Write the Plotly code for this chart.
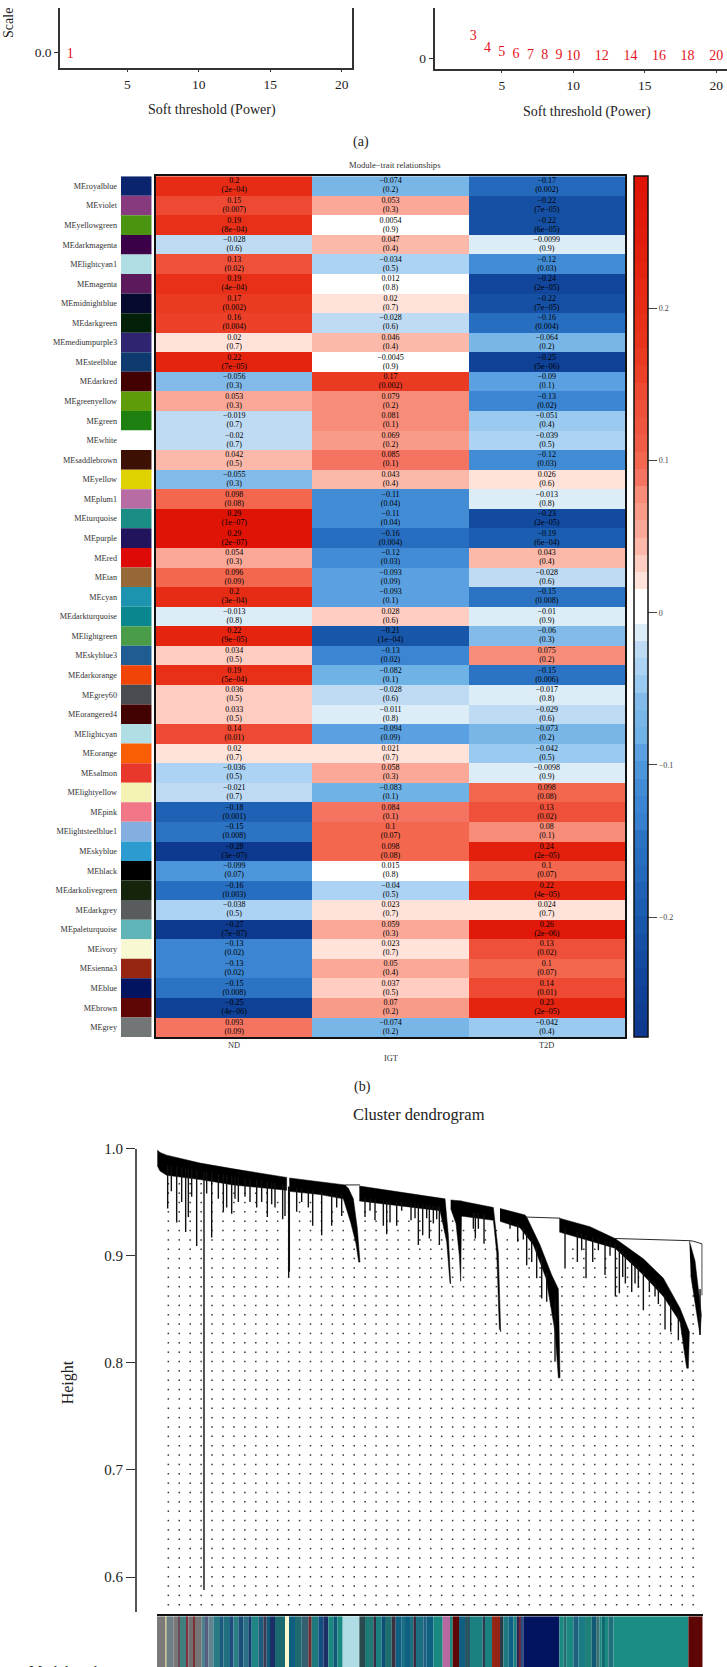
import numpy as np
import plotly.graph_objects as go

W, H = 727, 1667
FONT = "Liberation Serif"

# ---------- panel (a) ----------
fit_power = [1]
fit_r2 = [-0.0045]
conn_power = [3, 4, 5, 6, 7, 8, 9, 10, 12, 14, 16, 18, 20]
conn_mean = [65, 29, 18, 11, 9, 9, 9, 6, 6, 6, 6, 6, 6]

# ---------- panel (b) ----------
modules = ["royalblue", "violet", "yellowgreen", "darkmagenta", "lightcyan1", "magenta", "midnightblue",
           "darkgreen", "mediumpurple3", "steelblue", "darkred", "greenyellow", "green", "white",
           "saddlebrown", "yellow", "plum1", "turquoise", "purple", "red", "tan", "cyan", "darkturquoise",
           "lightgreen", "skyblue3", "darkorange", "grey60", "orangered4", "lightcyan", "orange", "salmon",
           "lightyellow", "pink", "lightsteelblue1", "skyblue", "black", "darkolivegreen", "darkgrey",
           "paleturquoise", "ivory", "sienna3", "blue", "brown", "grey"]
module_colors = ["#0B246E", "#873A7E", "#4A9412", "#3C0048", "#B0DEE4", "#5C1A5C", "#050A2E", "#032008",
                 "#2E2470", "#0F3A70", "#420000", "#5E9C0A", "#1F8012", "#FFFFFF", "#3E1004", "#E0D200",
                 "#B86CA4", "#1A8E84", "#22145C", "#DE0A08", "#966838", "#1C94B0", "#0A868E", "#4A9C48",
                 "#1F5C92", "#F04408", "#484C50", "#420202", "#B0DEE4", "#FA5E05", "#E8382C", "#F4F2B4",
                 "#F07688", "#84AEE0", "#2C9CD0", "#000000", "#15250C", "#585C5C", "#60B4B8", "#F8F8D2",
                 "#962612", "#02145F", "#5E0505", "#727676"]
traits = ["ND", "IGT", "T2D"]
r_nd = [0.2, 0.15, 0.19, -0.028, 0.13, 0.19, 0.17, 0.16, 0.02, 0.22, -0.056, 0.053, -0.019, -0.02, 0.042,
        -0.055, 0.098, 0.29, 0.29, 0.054, 0.096, 0.2, -0.013, 0.22, 0.034, 0.19, 0.036, 0.033, 0.14, 0.02,
        -0.036, -0.021, -0.18, -0.15, -0.28, -0.099, -0.16, -0.038, -0.27, -0.13, -0.13, -0.15, -0.25, 0.093]
r_igt = [-0.074, 0.053, 0.0054, 0.047, -0.034, 0.012, 0.02, -0.028, 0.046, -0.0045, 0.17, 0.079, 0.081, 0.069,
         0.085, 0.043, -0.11, -0.11, -0.16, -0.12, -0.093, -0.093, 0.028, -0.21, -0.13, -0.082, -0.028, -0.011,
         -0.094, 0.021, 0.058, -0.083, 0.084, 0.1, 0.098, 0.015, -0.04, 0.023, 0.059, 0.023, 0.05, 0.037, 0.07,
         -0.074]
r_t2d = [-0.17, -0.22, -0.22, -0.0099, -0.12, -0.24, -0.22, -0.16, -0.064, -0.25, -0.09, -0.13, -0.051, -0.039,
         -0.12, 0.026, -0.013, -0.23, -0.19, 0.043, -0.028, -0.15, -0.01, -0.06, 0.075, -0.15, -0.017, -0.029,
         -0.073, -0.042, -0.0098, 0.098, 0.13, 0.08, 0.24, 0.1, 0.22, 0.024, 0.26, 0.13, 0.1, 0.14, 0.23, -0.042]
p_nd = ["2e-04", "0.007", "8e-04", "0.6", "0.02", "4e-04", "0.002", "0.004", "0.7", "7e-05", "0.3", "0.3", "0.7",
        "0.7", "0.5", "0.3", "0.08", "1e-07", "2e-07", "0.3", "0.09", "3e-04", "0.8", "9e-05", "0.5", "5e-04",
        "0.5", "0.5", "0.01", "0.7", "0.5", "0.7", "0.001", "0.008", "3e-07", "0.07", "0.003", "0.5", "7e-07",
        "0.02", "0.02", "0.008", "4e-06", "0.09"]
p_igt = ["0.2", "0.3", "0.9", "0.4", "0.5", "0.8", "0.7", "0.6", "0.4", "0.9", "0.002", "0.2", "0.1", "0.2", "0.1",
         "0.4", "0.04", "0.04", "0.004", "0.03", "0.09", "0.1", "0.6", "1e-04", "0.02", "0.1", "0.6", "0.8", "0.09",
         "0.7", "0.3", "0.1", "0.1", "0.07", "0.08", "0.8", "0.5", "0.7", "0.3", "0.7", "0.4", "0.5", "0.2", "0.2"]
p_t2d = ["0.002", "7e-05", "6e-05", "0.9", "0.03", "2e-05", "7e-05", "0.004", "0.2", "5e-06", "0.1", "0.02", "0.4",
         "0.5", "0.03", "0.6", "0.8", "2e-05", "6e-04", "0.4", "0.6", "0.008", "0.9", "0.3", "0.2", "0.006", "0.8",
         "0.6", "0.2", "0.5", "0.9", "0.08", "0.02", "0.1", "2e-05", "0.07", "4e-05", "0.7", "2e-06", "0.02", "0.07",
         "0.01", "2e-05", "0.4"]
z_min, z_max = -0.279, 0.287
scale_ticks = [0.2, 0.1, 0, -0.1, -0.2]
# 50 colour bands of the key, top (high) to bottom (low)
band_colors = ["#DF1406", "#E01608", "#E1190A", "#E21C0C", "#E3200E", "#E52410", "#E62814", "#E72C16", "#E83018",
               "#E9341C", "#EA3A22", "#EC4029", "#EE4A33", "#EF503A", "#F0553F", "#F15C47", "#F3674F", "#F47361",
               "#F78D79", "#F99B89", "#FBA898", "#FCB9AA", "#FFCDC2", "#FFE3DA", "#FFFFFF", "#FFFFFF", "#DDEDF8",
               "#BFDBF4", "#ACD3F4", "#9ACAF0", "#82BAEA", "#78B6E8", "#6FB2E6", "#5BA0E0", "#4E96DB", "#428CD6",
               "#3B85D2", "#3780CF", "#2C73C4", "#286EC0", "#2469BC", "#1F62B5", "#1B5DB0", "#1856AA", "#1650A4",
               "#134BA0", "#11469C", "#0F4196", "#0E3D91", "#0D3A8E"]

# ---------- panel (c): dendrogram, x = leaf position, heights ----------
branch_leaf = [
    [472, 480, 500, 600, 700, 860, 860, 700, 600, 500, 480, 472],
    [868, 960, 1035, 1045, 1060, 1072, 1080, 1076, 1068, 1052, 1030, 960, 868],
    [1078, 1335, 1345, 1352, 1350, 1340, 1320, 1078],
    [1352, 1385, 1382, 1378, 1368, 1352],
    [1382, 1480, 1495, 1502, 1498, 1490, 1480, 1382],
    [1500, 1575, 1580, 1620, 1655, 1675, 1680, 1675, 1665, 1638, 1600, 1560, 1500],
    [1678, 1770, 1845, 1930, 1990, 2040, 2068, 2065, 2060, 2040, 1990, 1930, 1845, 1770, 1678],
    [2068, 2085, 2104, 2100, 2072],
]
branch_height = [
    [0.9985, 0.9963, 0.9938, 0.9864, 0.981, 0.973, 0.961, 0.966, 0.971, 0.975, 0.979, 0.984],
    [0.9725, 0.969, 0.966, 0.963, 0.953, 0.925, 0.894, 0.894, 0.911, 0.931, 0.953, 0.957, 0.960],
    [0.965, 0.953, 0.919, 0.874, 0.874, 0.913, 0.942, 0.951],
    [0.952, 0.951, 0.876, 0.90, 0.93, 0.944],
    [0.951, 0.945, 0.903, 0.829, 0.832, 0.903, 0.933, 0.937],
    [0.944, 0.938, 0.936, 0.910, 0.882, 0.869, 0.786, 0.786, 0.829, 0.879, 0.910, 0.926, 0.932],
    [0.935, 0.927, 0.916, 0.897, 0.879, 0.851, 0.829, 0.795, 0.795, 0.838, 0.862, 0.882, 0.907, 0.914, 0.922],
    [0.914, 0.895, 0.845, 0.826, 0.882],
]
merge_leaf = [[1035, 1080], [1580, 1680], [1845, 1955, 2068], [2068, 2080, 2106, 2106]]
merge_height = [[0.966, 0.966], [0.936, 0.935], [0.916, 0.915, 0.914], [0.914, 0.9135, 0.911, 0.863]]
spike_leaf = [503, 530, 557, 565, 590, 612, 635, 655, 670, 695, 715, 750, 770, 802, 825, 848, 855, 866, 868, 890, 938, 965,
              995, 1025, 1095, 1125, 1150, 1160, 1170, 1190, 1233, 1255, 1268, 1288, 1310, 1318, 1420, 1426, 1452,
              1553, 1580, 1595, 1610, 1625, 1640, 1665, 1695, 1732, 1758, 1778, 1815, 1846, 1858, 1876, 1895, 1905,
              1930, 1948, 1965, 1995, 2012, 2035, 2100, 514, 545, 575, 620, 680, 705, 735, 785, 815, 905, 925, 1010,
              1110, 1205, 1245, 1280, 1300, 1435, 1530, 1570, 1745, 1795, 1830, 1868, 1915, 1975]
spike_low = [0.944, 0.931, 0.922, 0.936, 0.909, 0.588, 0.917, 0.953, 0.941, 0.939, 0.950, 0.950, 0.945, 0.936, 0.945,
             0.934, 0.937, 0.880, 0.885, 0.941, 0.928, 0.919, 0.928, 0.937, 0.936, 0.933, 0.928, 0.920, 0.931, 0.928, 0.933,
             0.910, 0.919, 0.916, 0.934, 0.910, 0.925, 0.916, 0.911, 0.913, 0.891, 0.894, 0.879, 0.860, 0.857, 0.801,
             0.888, 0.894, 0.879, 0.894, 0.882, 0.862, 0.865, 0.874, 0.866, 0.874, 0.849, 0.866, 0.862, 0.831, 0.829,
             0.821, 0.826, 0.960, 0.950, 0.955, 0.958, 0.945, 0.953, 0.955, 0.950, 0.948, 0.950, 0.945, 0.945, 0.942,
             0.942, 0.935, 0.935, 0.930, 0.925, 0.925, 0.915, 0.905, 0.905, 0.900, 0.880, 0.870, 0.855]
# lower edge of the tree, where spikes start and the guide dots stop
lower_leaf = [471, 860, 868, 1030, 1060, 1090, 1320, 1480, 1560, 1620, 1680, 1690, 1845, 1930, 1990, 2040, 2068, 2075, 2108]
lower_height = [0.982, 0.962, 0.960, 0.953, 0.930, 0.950, 0.942, 0.933, 0.926, 0.900, 0.840, 0.922, 0.907, 0.882, 0.862, 0.838, 0.820, 0.880, 0.860]

strip_start = [471, 495, 500, 520, 535, 540, 560, 565, 580, 585, 605, 615, 625, 640, 660, 670, 690, 700, 715, 730, 745,
               755, 775, 790, 800, 810, 825, 855, 867, 885, 905, 925, 935, 955, 970, 985, 1000, 1012, 1028, 1078, 1095,
               1120, 1128, 1145, 1155, 1175, 1187, 1205, 1215, 1230, 1240, 1248, 1270, 1280, 1300, 1328, 1350, 1358, 1377,
               1395, 1410, 1448, 1455, 1476, 1500, 1510, 1525, 1540, 1550, 1557, 1562, 1570, 1678, 1690, 1700, 1720, 1735,
               1755, 1775, 1790, 1798, 1805, 1815, 1825, 1840, 2065]
strip_end_leaf = 2108
strip_colors = ["#7A7A7A", "#C8C89A", "#6F7F86", "#787878", "#6B4A5A", "#3F7F80", "#803040", "#707070", "#803030", "#757575",
                "#4F8090", "#555D80", "#608590", "#2A7A85", "#1E5A80", "#1F6F80", "#204A80", "#2A7F85", "#1A4F78", "#2B6F85",
                "#123C70", "#208585", "#1C5C7C", "#3A3A55", "#0F5878", "#1A2F68", "#1B6A70", "#F8F8D0", "#0F5F80", "#1F6A70",
                "#335F70", "#6A2A30", "#1F7A7F", "#124F80", "#1A2F68", "#1A8A80", "#105878", "#1A8A80", "#B0DDE5", "#2A4A50",
                "#1F7A75", "#303048", "#1A7F80", "#0F4F75", "#1F6F70", "#3A3040", "#0F5F80", "#1A6F85", "#0F5F80", "#1A7080",
                "#3A2A40", "#1A6F80", "#1F5F80", "#0F6080", "#1A8A80", "#B868A0", "#1A8A80", "#5E0505", "#0F5F80", "#2A5560",
                "#1A8080", "#2A3A50", "#1A8080", "#952515", "#2A3A45", "#1F7A80", "#105F85", "#1A8080", "#2A2850", "#802030",
                "#2A4F80", "#02145F", "#1A8A80", "#206F70", "#1A8A80", "#1F6080", "#1A7A85", "#1F8078", "#105A75", "#3F6F70",
                "#1A8A80", "#0F6A70", "#1A8A80", "#1F7078", "#1A8E84", "#5E0505"]


def xd(a, b):
    return [a / W, b / W]


def yd(top, bottom):
    return [1 - bottom / H, 1 - top / H]


def sep(lists):
    out = []
    for part in lists:
        out.extend(part)
        out.append(None)
    return out


fig = go.Figure()

# (a)
fig.add_trace(go.Scatter(x=fit_power, y=fit_r2, mode="text", text=[str(v) for v in fit_power],
                         textfont=dict(family=FONT, size=14, color="#E3121C"), xaxis="x", yaxis="y", hoverinfo="skip"))
fig.add_trace(go.Scatter(x=conn_power, y=conn_mean, mode="text", text=[str(v) for v in conn_power],
                         textfont=dict(family=FONT, size=14, color="#E3121C"), xaxis="x2", yaxis="y2", hoverinfo="skip"))

# (b) module colour strip
rows = list(range(len(modules)))
fig.add_trace(go.Bar(x=[1] * len(rows), y=rows, orientation="h", width=1, marker=dict(color=module_colors, line_width=0),
                     xaxis="x3", yaxis="y3", hoverinfo="skip"))

# (b) heat map
scale = []
for k, c in enumerate(reversed(band_colors)):
    scale += [[k / 50, c], [(k + 1) / 50, c]]
z = [[a, b, c] for a, b, c in zip(r_nd, r_igt, r_t2d)]
fig.add_trace(go.Heatmap(
    z=z, x=[0, 1, 2], y=rows, zmin=z_min, zmax=z_max, colorscale=scale, xaxis="x4", yaxis="y4", hoverinfo="skip",
    colorbar=dict(x=634 / W, xanchor="left", xpad=0, ypad=0, thickness=14, thicknessmode="pixels",
                  len=865 / H, lenmode="fraction", y=1 - 169 / H, yanchor="top", outlinewidth=1.5, outlinecolor="#111",
                  tickmode="array", tickvals=scale_ticks, ticktext=["0.2", "0.1", "0", "\u22120.1", "\u22120.2"],
                  ticks="outside", ticklen=9, tickwidth=1, tickcolor="#444",
                  tickfont=dict(family=FONT, size=8, color="#444"))))
for col, (rs, ps) in enumerate([(r_nd, p_nd), (r_igt, p_igt), (r_t2d, p_t2d)]):
    fig.add_trace(go.Scatter(x=[col] * len(rows), y=[i - 0.23 for i in rows], mode="text",
                             text=[str(v).replace("-", "\u2212") for v in rs],
                             textfont=dict(family=FONT, size=8, color="#000"), xaxis="x4", yaxis="y4", hoverinfo="skip"))
    fig.add_trace(go.Scatter(x=[col] * len(rows), y=[i + 0.23 for i in rows], mode="text",
                             text=["(" + p.replace("-", "\u2212") + ")" for p in ps],
                             textfont=dict(family=FONT, size=8, color="#000"), xaxis="x4", yaxis="y4", hoverinfo="skip"))

# (c) guide dots, behind the tree
dot_cols = np.arange(505.0, 2110.0, 32.8)
dot_rows = np.arange(0.5655, 1.0, 0.00873)
dx, dy = [], []
for c in dot_cols:
    limit = np.interp(c, lower_leaf, lower_height) - 0.006
    for r in dot_rows:
        if r < limit:
            dx.append(float(c))
            dy.append(float(r))
fig.add_trace(go.Scatter(x=dx, y=dy, mode="markers", marker=dict(size=1.5, color="#333", symbol="square", line_width=0),
                         cliponaxis=False, xaxis="x5", yaxis="y5", hoverinfo="skip"))
# (c) tree
fig.add_trace(go.Scatter(x=sep(branch_leaf), y=sep(branch_height), mode="lines", fill="toself", fillcolor="#000",
                         line=dict(color="#000", width=0.5), xaxis="x5", yaxis="y5", hoverinfo="skip"))
fig.add_trace(go.Scatter(x=sep(merge_leaf), y=sep(merge_height), mode="lines", line=dict(color="#111", width=0.9),
                         xaxis="x5", yaxis="y5", hoverinfo="skip"))
sx, sy = [], []
for leaf, low in zip(spike_leaf, spike_low):
    start = float(np.interp(leaf, lower_leaf, lower_height)) + 0.004
    sx += [leaf, leaf, None]
    sy += [start, low, None]
fig.add_trace(go.Scatter(x=sx, y=sy, mode="lines", line=dict(color="#111", width=1.4),
                         xaxis="x5", yaxis="y5", hoverinfo="skip"))
# (c) module colour bar under the tree
strip_ends = strip_start[1:] + [strip_end_leaf]
fig.add_trace(go.Bar(x=[e - s for s, e in zip(strip_start, strip_ends)], base=strip_start, y=[0] * len(strip_start),
                     orientation="h", width=1, marker=dict(color=strip_colors, line_width=0),
                     xaxis="x6", yaxis="y6", hoverinfo="skip"))

LINE = "#333"
tick_font = dict(family=FONT, size=13.5, color="#222")
hidden = dict(showgrid=False, zeroline=False, showticklabels=False, ticks="", showline=False)

layout = dict(
    width=W, height=H, margin=dict(l=0, r=0, t=0, b=0, pad=0), showlegend=False, barmode="overlay",
    paper_bgcolor="white", plot_bgcolor="white", font=dict(family=FONT, color="#222"),
    # (a) left
    xaxis=dict(domain=xd(60, 352.3), range=[0.29, 20.74], tickvals=[5, 10, 15, 20], ticks="outside", ticklen=3,
               tickcolor=LINE, showline=True, linecolor=LINE, linewidth=1.5, showgrid=False, zeroline=False,
               tickfont=tick_font, anchor="y"),
    yaxis=dict(domain=yd(0, 60), range=[-0.03, 0.0877], tickvals=[0.0], ticktext=["0.0"], ticks="outside", ticklen=4,
               tickcolor=LINE, showline=True, linecolor=LINE, linewidth=1.5, mirror=True, showgrid=False,
               zeroline=False, tickfont=tick_font, anchor="x"),
    # (a) right
    xaxis2=dict(domain=xd(434.5, 727), range=[0.29, 20.76], tickvals=[5, 10, 15, 20], ticks="outside", ticklen=3,
                tickcolor=LINE, showline=True, linecolor=LINE, linewidth=1.5, showgrid=False, zeroline=False,
                tickfont=tick_font, anchor="y2"),
    yaxis2=dict(domain=yd(0, 61), range=[-31, 152], tickvals=[0], ticks="outside", ticklen=4, tickcolor=LINE,
                showline=True, linecolor=LINE, linewidth=1.5, showgrid=False, zeroline=False, tickfont=tick_font,
                anchor="x2"),
    # (b) colour strip
    xaxis3=dict(domain=xd(121, 151.7), range=[0, 1], anchor="y3", **hidden),
    yaxis3=dict(domain=yd(169, 1034), range=[43.5, -0.5], tickmode="array", tickvals=rows,
                ticktext=["ME" + m for m in modules], ticks="", ticklabelstandoff=3, showgrid=False, zeroline=False,
                showline=False, tickfont=dict(family=FONT, size=8.2, color="#333"), anchor="x3"),
    # (b) heat map
    xaxis4=dict(domain=xd(156, 625), range=[-0.5, 2.5], showgrid=False, zeroline=False, showticklabels=False,
                showline=True, mirror=True, linecolor="#111", linewidth=1.5, anchor="y4"),
    yaxis4=dict(domain=yd(169, 1034), range=[43.5, -0.5], showgrid=False, zeroline=False, showticklabels=False,
                showline=True, mirror=True, linecolor="#111", linewidth=1.5, anchor="x4"),
    # (c) tree
    xaxis5=dict(domain=xd(157, 702.7), range=[471, 2108], anchor="y5", **hidden),
    yaxis5=dict(domain=yd(1146, 1611.7), range=[0.5675, 1.0], tickvals=[0.6, 0.7, 0.8, 0.9, 1.0],
                ticktext=["0.6", "0.7", "0.8", "0.9", "1.0"], ticks="outside", ticklen=9, tickwidth=1, tickcolor=LINE,
                showline=True, linecolor="#555", linewidth=1.5, showgrid=False, zeroline=False,
                tickfont=dict(family=FONT, size=15, color="#222"), anchor="free", position=135.7 / W),
    # (c) colour bar
    xaxis6=dict(domain=xd(157, 702.7), range=[471, 2108], anchor="y6", showline=True, linecolor="#111", linewidth=1.5,
                side="top", showgrid=False, zeroline=False, showticklabels=False, ticks=""),
    yaxis6=dict(domain=yd(1616, 1667), range=[-0.5, 0.5], anchor="x6", **hidden),
)


def note(text, x, y, size, angle=0, color="#222", anchor="center"):
    return dict(text=text, x=x / W, y=1 - y / H, xref="paper", yref="paper", showarrow=False, textangle=angle,
                xanchor=anchor, yanchor="middle", font=dict(family=FONT, size=size, color=color))


annotations = [
    note("Scale", 8.5, 15.5, 14, angle=-90),
    note("Soft threshold (Power)", 211.7, 102, 14),
    note("Soft threshold (Power)", 587, 104, 14),
    note("(a)", 361, 135, 14),
    note("Module\u2212trait relationships", 395, 158, 8.6, color="#333"),
    note("(b)", 362, 1084, 14),
    note("Cluster dendrogram", 419, 1112, 16.5),
    note("Height", 68, 1381, 16, angle=-90),
    note("Module colors", 27, 1671, 15, anchor="left"),
]
for name, tx, ty in zip(traits, [0, 1, 2], [1043, 1056, 1043]):
    annotations.append(dict(text=name, x=tx, y=1 - ty / H, xref="x4", yref="paper", showarrow=False,
                            xanchor="center", yanchor="middle", font=dict(family=FONT, size=8.4, color="#333")))
layout["annotations"] = annotations
fig.update_layout(**layout)
fig.write_html("out.html", config=dict(displayModeBar=False), post_script="document.body.style.margin='0';")
